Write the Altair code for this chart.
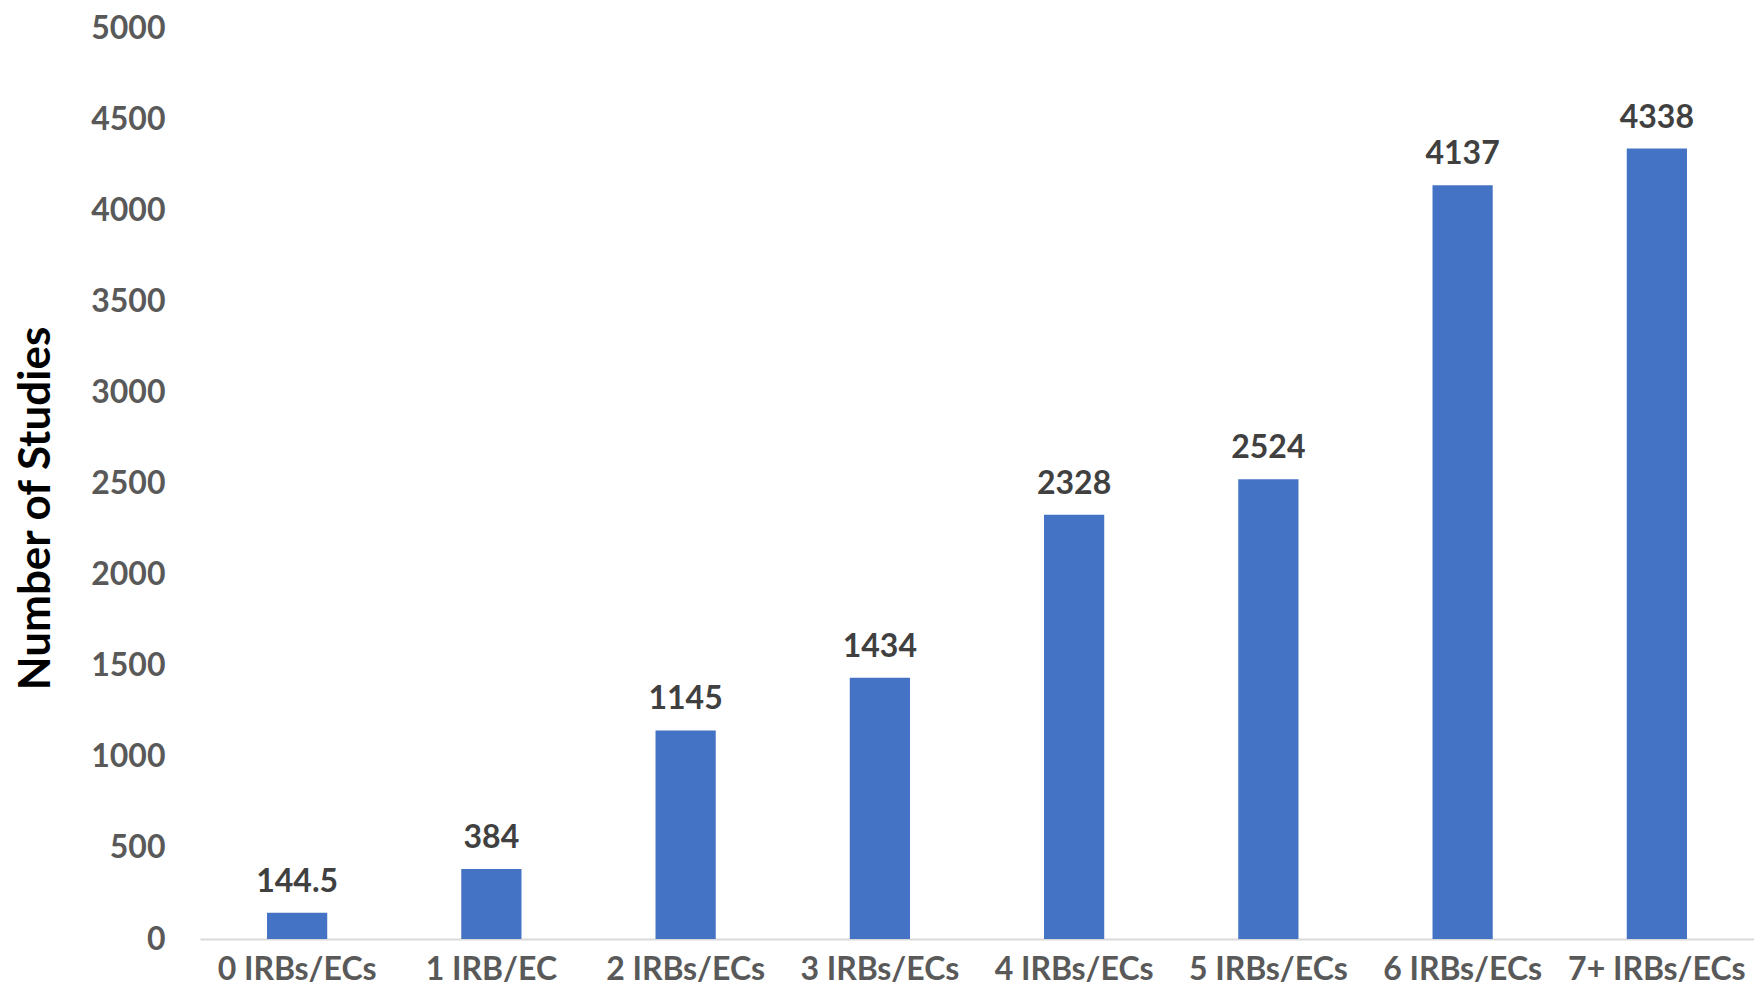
import altair as alt
import pandas as pd

categories = ["0 IRBs/ECs", "1 IRB/EC", "2 IRBs/ECs", "3 IRBs/ECs",
              "4 IRBs/ECs", "5 IRBs/ECs", "6 IRBs/ECs", "7+ IRBs/ECs"]
values = [144.5, 384, 1145, 1434, 2328, 2524, 4137, 4338]
labels = ["144.5", "384", "1145", "1434", "2328", "2524", "4137", "4338"]
y_ticks = [0, 500, 1000, 1500, 2000, 2500, 3000, 3500, 4000, 4500, 5000]

df = pd.DataFrame({"cat": categories, "val": values, "lab": labels})

FONT = "Lato"

x = alt.X("cat:N", sort=categories, title=None,
          scale=alt.Scale(paddingInner=0.69, paddingOuter=0.345, range=[0, 1554]),
          axis=alt.Axis(labelAngle=0, labelFont=FONT, labelFontSize=32, labelFontWeight="bold",
                        labelColor="#595959", labelPadding=15, ticks=False,
                        domainColor="#D9D9D9", domainWidth=2, labelOverlap=False,
                        labelLimit=0))
y = alt.Y("val:Q", title="Number of Studies",
          scale=alt.Scale(domain=[0, 5000], nice=False),
          axis=alt.Axis(values=y_ticks, format="d", grid=False, domain=False, ticks=False,
                        labelFont=FONT, labelFontSize=32, labelFontWeight="bold",
                        labelColor="#595959", labelPadding=35,
                        titleFont=FONT, titleFontSize=44, titleFontWeight="bold",
                        titleColor="#000000", titleAngle=-90, titleX=-164, titleY=480,
                        titleAlign="center", titleBaseline="middle"))

bars = alt.Chart(df).mark_bar(color="#4472C4").encode(x=x, y=y)
text = alt.Chart(df).mark_text(font=FONT, fontSize=32, fontWeight="bold", color="#404040",
                               baseline="alphabetic", dy=-21).encode(
    x=alt.X("cat:N", sort=categories), y="val:Q", text="lab:N")

chart = (bars + text).properties(
    width=1554, height=911,
    background="white",
    autosize=alt.AutoSizeParams(type="none"),
    padding={"left": 192, "top": 20, "right": 0, "bottom": 48},
).configure_view(stroke=None, strokeWidth=0)

chart.save("out.html", embed_options={"renderer": "svg", "actions": False})
